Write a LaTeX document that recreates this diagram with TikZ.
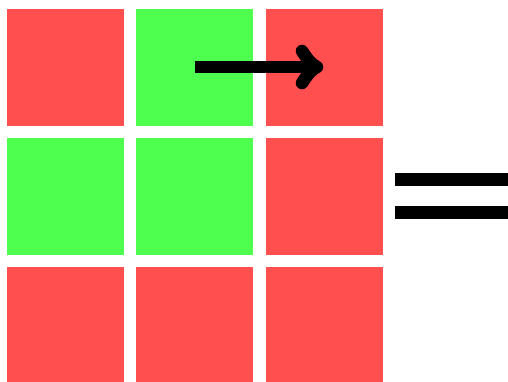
\documentclass[tikz,border=0pt]{standalone}
\definecolor{cred}{HTML}{FF4F4F}
\definecolor{cgreen}{HTML}{4FFF4F}
\begin{document}
\begin{tikzpicture}[x=1pt,y=-1pt,
  sq/.style={minimum width=117pt,minimum height=117pt,inner sep=0pt,outer sep=0pt,anchor=north west},
  redsq/.style={sq,fill=cred},
  greensq/.style={sq,fill=cgreen},
  bar/.style={fill=black,draw=none}]
\useasboundingbox (0,0) rectangle (508,381);
\fill[white] (0,0) rectangle (508,381);
\node[redsq]   (a11) at (7,9) {};
\node[greensq] (a12) at (136,9) {};
\node[redsq]   (a13) at (266,9) {};
\node[greensq] (a21) at (7,138) {};
\node[greensq] (a22) at (136,138) {};
\node[redsq]   (a23) at (266,138) {};
\node[redsq]   (a31) at (7,267) {};
\node[redsq]   (a32) at (136,267) {};
\node[redsq]   (a33) at (266,267) {};
\fill[bar] (395,173.3) rectangle (508,186.3);
\fill[bar] (395,206) rectangle (508,219);
\coordinate (s) at (195,67);
\coordinate (t) at (317,67);
\draw[line width=12.6pt] (s) -- ([xshift=-4pt]t);
\draw[line width=12.6pt,line cap=round,line join=round]
  (302,51) .. controls (308,60) and (312,65) .. (t)
  .. controls (312,69) and (308,74) .. (302,83);
\end{tikzpicture}
\end{document}
